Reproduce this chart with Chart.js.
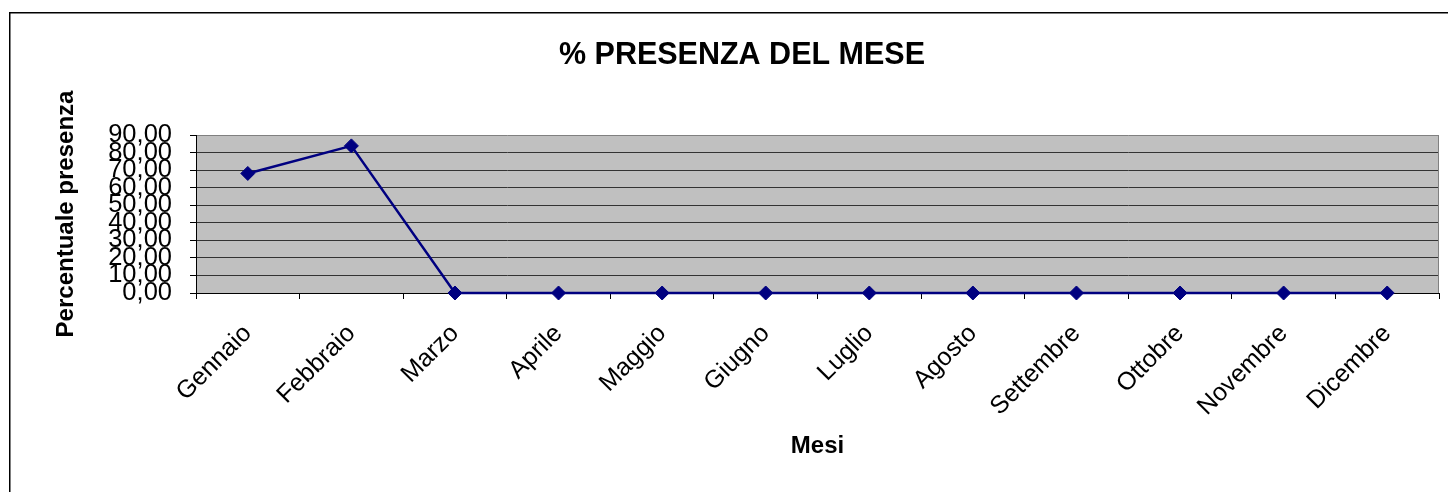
<!DOCTYPE html>
<html>
<head>
<meta charset="utf-8">
<script src="https://cdn.jsdelivr.net/npm/chart.js@4"></script>
<style>
  html, body { margin: 0; padding: 0; background: #ffffff; }
  #wrap { width: 1448px; height: 492px; }
</style>
</head>
<body>
<div id="wrap"><canvas id="c" width="1448" height="492"></canvas></div>
<script>
const months = ['Gennaio', 'Febbraio', 'Marzo', 'Aprile', 'Maggio', 'Giugno',
                'Luglio', 'Agosto', 'Settembre', 'Ottobre', 'Novembre', 'Dicembre'];
const presenza = [68.1, 83.8, 0, 0, 0, 0, 0, 0, 0, 0, 0, 0];
const yTickValues = [0, 10, 20, 30, 40, 50, 60, 70, 80, 90];
const yTickLabels = ['0,00', '10,00', '20,00', '30,00', '40,00', '50,00', '60,00', '70,00', '80,00', '90,00'];
const chartTitle = '% PRESENZA DEL MESE';
const yTitle = 'Percentuale presenza';
const xTitle = 'Mesi';

const FONT = "'Liberation Sans', Arial, sans-serif";

const plotBg = {
  id: 'plotBg',
  beforeDraw(chart) {
    const {ctx, chartArea: a} = chart;
    ctx.save();
    ctx.fillStyle = '#c0c0c0';
    ctx.fillRect(a.left, a.top, a.right - a.left, a.bottom - a.top);
    ctx.restore();
  },
  beforeDatasetsDraw(chart) {
    const {ctx, chartArea: a} = chart;
    ctx.save();
    ctx.strokeStyle = '#808080';
    ctx.lineWidth = 1;
    ctx.beginPath();
    ctx.moveTo(a.right - 0.5, a.top);
    ctx.lineTo(a.right - 0.5, a.bottom);
    ctx.stroke();
    ctx.restore();
  },
  afterDraw(chart) {
    const {ctx} = chart;
    ctx.save();
    ctx.strokeStyle = '#000000';
    ctx.lineWidth = 1.5;
    ctx.strokeRect(9.75, 12.75, 1460, 500);
    ctx.restore();
  }
};

new Chart(document.getElementById('c'), {
  type: 'line',
  data: {
    labels: months,
    datasets: [{
      data: presenza,
      borderColor: '#000080',
      backgroundColor: '#000080',
      borderWidth: 2.5,
      pointStyle: 'rectRot',
      pointRadius: 7,
      pointHoverRadius: 7,
      pointBackgroundColor: '#000080',
      pointBorderColor: '#000080',
      pointBorderWidth: 1,
      tension: 0,
      clip: false
    }]
  },
  options: {
    responsive: false,
    animation: false,
    events: [],
    layout: { padding: { left: 45, right: 9, top: 0, bottom: 0 } },
    plugins: {
      legend: { display: false },
      tooltip: { enabled: false },
      title: {
        display: true,
        text: chartTitle,
        color: '#000000',
        font: { family: FONT, size: 30.5, weight: 'bold', lineHeight: 1.2 },
        padding: { top: 37, bottom: 61.4 }
      }
    },
    scales: {
      x: {
        type: 'category',
        offset: true,
        grid: {
          offset: true,
          drawOnChartArea: false,
          drawTicks: true,
          tickLength: 6,
          tickColor: '#000000',
          tickWidth: 1
        },
        border: { display: true, color: '#000000', width: 1 },
        ticks: {
          autoSkip: false,
          minRotation: 45,
          maxRotation: 45,
          padding: 20,
          color: '#000000',
          font: { family: FONT, size: 25, lineHeight: 1.2 }
        },
        title: {
          display: true,
          text: xTitle,
          color: '#000000',
          font: { family: FONT, size: 24, weight: 'bold', lineHeight: 1.2 },
          padding: { top: 0, bottom: 31 }
        },
        afterFit(scale) { scale.height = 199; }
      },
      y: {
        type: 'linear',
        min: 0,
        max: 90,
        afterBuildTicks(scale) { scale.ticks = yTickValues.map(v => ({ value: v })); },
        grid: {
          color: (c) => (c.tick && c.tick.value === 90 ? '#808080' : '#333333'),
          lineWidth: 1,
          drawTicks: true,
          tickLength: 6,
          tickColor: '#000000',
          tickWidth: 1
        },
        border: { display: true, color: '#000000', width: 1 },
        ticks: {
          autoSkip: false,
          padding: 18,
          color: '#000000',
          font: { family: FONT, size: 25.5, lineHeight: 1.2 },
          callback: (v, i) => yTickLabels[i]
        },
        title: {
          display: true,
          text: yTitle,
          color: '#000000',
          font: { family: FONT, size: 24, weight: 'bold', lineHeight: 1.2 },
          padding: { top: 7, bottom: 0 }
        },
        afterFit(scale) { scale.width = 151; }
      }
    }
  },
  plugins: [plotBg]
});
</script>
</body>
</html>
